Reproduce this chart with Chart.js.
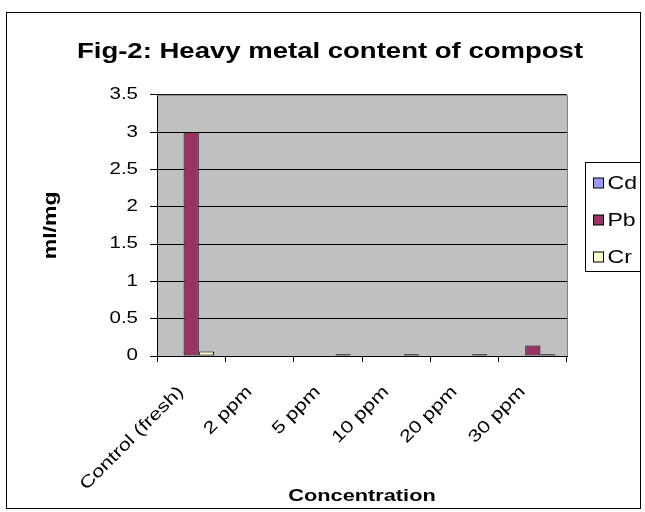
<!DOCTYPE html>
<html><head><meta charset="utf-8">
<script src="https://cdn.jsdelivr.net/npm/chart.js@4.4.0/dist/chart.umd.min.js"></script>
<style>html,body{margin:0;padding:0;background:#fff;}#wrap{width:645px;height:512px;position:relative;}</style>
</head><body><div id="wrap"><canvas id="c" width="645" height="512"></canvas></div>
<script>
const categories = ["Control (fresh)", "2 ppm", "5 ppm", "10 ppm", "20 ppm", "30 ppm"];
const seriesNames = ["Cd", "Pb", "Cr"];
const cdValues = [0, 0, 0, 0, 0, 0];
const pbValues = [3.0, 0, 0, 0, 0, 0.14];
const crValues = [0.06, 0, 0.025, 0.025, 0.025, 0.025];
const yTickValues = [0, 0.5, 1, 1.5, 2, 2.5, 3, 3.5];
const seriesColors = ["#9999FF", "#993366", "#FFFFCC"];
const chartTitle = "Fig-2: Heavy metal content of compost";
const xTitle = "Concentration";
const yTitle = "ml/mg";

const FONT = "'Liberation Sans', Arial, sans-serif";
const TEXT_STRETCH = 1.28;

const canvas = document.getElementById('c');
const ctx2d = canvas.getContext('2d');
const origFillText = ctx2d.fillText;
ctx2d.fillText = function (text, x, y, maxWidth) {
  this.save();
  this.translate(x, y);
  this.scale(TEXT_STRETCH, 1);
  if (maxWidth !== undefined) origFillText.call(this, text, 0, 0, maxWidth / TEXT_STRETCH);
  else origFillText.call(this, text, 0, 0);
  this.restore();
};

const decor = {
  id: 'decor',
  beforeDraw(chart) {
    const {ctx, chartArea: a} = chart;
    ctx.save();
    ctx.fillStyle = '#fff';
    ctx.fillRect(0, 0, chart.width, chart.height);
    ctx.strokeStyle = '#000'; ctx.lineWidth = 1;
    ctx.strokeRect(6.5, 12.5, 634, 496);
    ctx.fillStyle = '#C0C0C0';
    ctx.fillRect(a.left, a.top, a.right - a.left, a.bottom - a.top);
    ctx.restore();
  },
  afterDatasetsDraw(chart) {
    const {ctx, chartArea: a} = chart;
    ctx.save();
    ctx.strokeStyle = '#808080'; ctx.lineWidth = 1;
    ctx.beginPath();
    ctx.moveTo(a.left, a.top + 0.5); ctx.lineTo(a.right + 0.5, a.top + 0.5);
    ctx.lineTo(a.right + 0.5, a.bottom);
    ctx.stroke();
    ctx.restore();
  },
  afterDraw(chart) {
    const {ctx, chartArea: a} = chart;
    const bx = Math.round(a.right) + 18.5, by = 162.5, bw = 55, bh = 109;
    ctx.save();
    ctx.strokeStyle = '#000'; ctx.lineWidth = 1;
    ctx.strokeRect(bx, by, bw, bh);
    ctx.font = '18px ' + FONT;
    ctx.textBaseline = 'middle';
    ctx.textAlign = 'left';
    chart.data.datasets.forEach((ds, i) => {
      const cy = Math.round(by + 20.5 + i * 37);
      ctx.fillStyle = ds.backgroundColor;
      ctx.fillRect(bx + 8, cy - 5, 10, 10);
      ctx.strokeRect(bx + 8, cy - 5, 10, 10);
      ctx.fillStyle = '#000';
      ctx.fillText(ds.label, bx + 22, cy + 1);
    });
    ctx.restore();
  }
};

new Chart(canvas, {
  type: 'bar',
  data: {
    labels: categories,
    datasets: [
      {label: seriesNames[0], data: cdValues, backgroundColor: seriesColors[0]},
      {label: seriesNames[1], data: pbValues, backgroundColor: seriesColors[1]},
      {label: seriesNames[2], data: crValues, backgroundColor: seriesColors[2]}
    ].map(d => Object.assign(d, {borderColor: '#000', borderWidth: 1, borderSkipped: false, barPercentage: 1, categoryPercentage: 0.667}))
  },
  options: {
    responsive: false,
    devicePixelRatio: 1,
    animation: false,
    layout: {padding: {left: 20, right: 5, top: 0, bottom: 5}},
    plugins: {
      legend: {display: false},
      tooltip: {enabled: false},
      title: {
        display: true, text: chartTitle, color: '#000',
        font: {family: FONT, size: 21.5, weight: 'bold'},
        padding: {top: 39, bottom: 30}
      }
    },
    scales: {
      x: {
        grid: {display: true, offset: true, drawOnChartArea: false, drawTicks: true, tickLength: 6, color: '#000', tickColor: '#000'},
        border: {display: true, color: '#000'},
        ticks: {color: '#000', font: {family: FONT, size: 17}, minRotation: 45, maxRotation: 45, autoSkip: false, padding: 20, labelOffset: -10},
        title: {display: true, text: xTitle, color: '#000', font: {family: FONT, size: 17, weight: 'bold'}, padding: 0},
        afterFit(s) { s.height = 151; }
      },
      y: {
        min: 0, max: 3.5,
        afterBuildTicks(s) { s.ticks = yTickValues.map(v => ({value: v})); },
        grid: {color: '#000', tickColor: '#000', tickLength: 7, drawTicks: true},
        border: {display: true, color: '#000'},
        ticks: {color: '#000', font: {family: FONT, size: 16}, padding: 12, callback: v => String(v)},
        title: {display: true, text: yTitle, color: '#000', font: {family: FONT, size: 18, weight: 'bold'}, padding: {top: 20}},
        afterFit(s) { s.width = 137; }
      },
      yR: {
        position: 'right', display: true,
        grid: {display: false}, border: {display: false}, ticks: {display: false},
        afterFit(s) { s.width = 73; }
      }
    }
  },
  plugins: [decor]
});
</script></body></html>
